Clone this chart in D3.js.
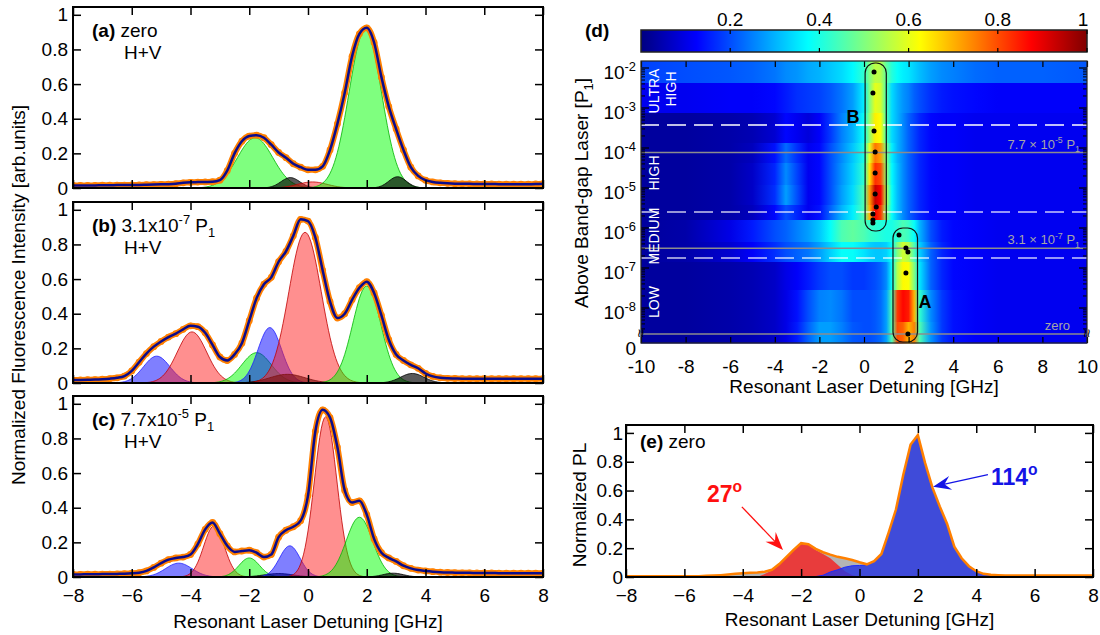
<!DOCTYPE html>
<html>
<head>
<meta charset="utf-8">
<script src="https://cdn.jsdelivr.net/npm/d3@7"></script>
<style>
  body { margin: 0; background: #fff; }
  svg { font-family: "Liberation Sans", Arial, Helvetica, sans-serif; }
</style>
</head>
<body>
<svg id="fig" width="1100" height="635"></svg>
<script>
(function() {
	"use strict"

	// ---------- data ----------
	// detuning grid of the measured spectra [GHz]
	var detuning = d3.range(-8, 8.0001, 0.25);

	// normalized fluorescence, panels (a) (b) (c)
	var specA = [0.015,0.015,0.015,0.015,0.016,0.016,0.017,0.017,0.018,0.018,0.019,0.020,
		0.021,0.022,0.025,0.030,0.033,0.034,0.035,0.036,
		0.045,0.10,0.20,0.27,0.30,0.305,0.29,0.25,
		0.205,0.175,0.14,0.12,0.105,0.105,0.125,0.22,
		0.37,0.55,0.76,0.89,0.925,0.84,0.64,0.47,
		0.34,0.22,0.12,0.07,0.045,0.035,0.030,0.027,
		0.025,0.024,0.024,0.023,0.023,0.023,0.022,0.022,0.022,0.022,0.022,0.023,0.025];
	var specB = [0.017,0.018,0.019,0.020,0.022,0.025,0.030,0.040,
		0.070,0.12,0.17,0.21,
		0.24,0.265,0.285,0.31,
		0.33,0.325,0.29,0.22,
		0.15,0.13,0.165,0.23,
		0.36,0.49,0.57,0.61,
		0.70,0.76,0.85,0.945,
		0.935,0.84,0.65,0.47,
		0.375,0.40,0.48,0.55,
		0.585,0.52,0.39,0.25,
		0.165,0.13,0.105,0.085,
		0.055,0.038,0.030,0.027,
		0.026,0.025,0.025,0.025,0.025,0.025,0.025,0.025,0.025,0.025,0.025,0.025,0.025];
	var specC = [0.015,0.015,0.016,0.016,0.017,0.017,0.018,0.019,
		0.021,0.025,0.035,0.055,
		0.08,0.10,0.11,0.115,
		0.13,0.19,0.275,0.315,
		0.25,0.18,0.145,0.15,
		0.155,0.14,0.115,0.13,
		0.23,0.27,0.29,0.325,
		0.47,0.84,0.965,0.92,
		0.75,0.50,0.43,0.44,
		0.36,0.22,0.14,0.11,
		0.09,0.065,0.05,0.04,
		0.035,0.031,0.028,0.026,
		0.025,0.024,0.024,0.023,0.023,0.023,0.022,0.022,0.022,0.022,0.022,0.022,0.022];

	// fitted components: [kind, centre GHz, height, width GHz]
	var compA = [["g",-1.8,0.29,0.6],["k",-0.6,0.06,0.32],["r",0.15,0.035,0.5],["g",1.95,0.915,0.55],["k",3.05,0.065,0.3]];
	var compB = [["b",-5.15,0.155,0.45],["r",-3.95,0.295,0.5],["g",-1.75,0.175,0.5],["b",-1.3,0.32,0.4],
		["k",-0.7,0.05,0.6],["r",-0.1,0.87,0.55],["g",2.0,0.56,0.48],["k",3.55,0.055,0.4]];
	var compC = [["b",-4.4,0.08,0.45],["r",-3.2,0.295,0.35],["g",-2.0,0.11,0.35],["k",-1.0,0.02,0.5],
		["b",-0.62,0.18,0.35],["r",0.6,0.925,0.38],["g",1.75,0.345,0.45],["k",2.9,0.022,0.35]];

	var labelA = [["(a)","b"],[" zero",""]];
	var labelB = [["(b)","b"],[" 3.1x10",""],["-7","sup"],[" P",""],["1","sub"]];
	var labelC = [["(c)","b"],[" 7.7x10",""],["-5","sup"],[" P",""],["1","sub"]];

	// panel (e): total, 27 deg and 114 deg spectra
	var specETotal = [0.005,0.005,0.005,0.005,0.005,0.005,0.005,0.005,0.005,0.005,0.005,0.008,
		0.010,0.013,0.017,0.022,
		0.026,0.030,0.032,0.036,
		0.050,0.09,0.14,0.19,
		0.235,0.228,0.195,0.172,
		0.155,0.14,0.13,0.118,
		0.102,0.088,0.11,0.16,
		0.31,0.47,0.71,0.92,
		0.985,0.79,0.62,0.49,
		0.37,0.21,0.13,0.075,
		0.04,0.022,0.015,0.012,
		0.010,0.010,0.010,0.010,0.010,0.010,0.010,0.010,0.010,0.010,0.010,0.010,0.010];
	var specERed = [0,0,0,0,0,0,0,0,0,0,0,0,0,0,0,0,0,0,0,0.02,
		0.045,0.085,0.135,0.185,
		0.23,0.222,0.188,0.16,
		0.13,0.085,0.04,0.012,
		0,0,0,0,0,0,0,0,0,0,0,0,0,0,0,0,0,0,0,0,0,0,0,0,0,0,0,0,0,0,0,0,0];
	var specEBlue = [0,0,0,0,0,0,0,0,0,0,0,0,0,0,0,0,0,0,0,0,0,0,0,0,0,0,0.003,0.012,
		0.035,0.05,0.068,0.078,
		0.08,0.083,0.105,0.15,
		0.305,0.465,0.705,0.915,
		0.98,0.785,0.615,0.485,
		0.365,0.205,0.125,0.07,
		0.035,0.018,0.012,0.009,
		0.008,0.008,0.008,0.008,0.008,0.008,0.008,0.008,0.008,0.008,0.008,0.008,0.008];
	var arrowRed = [-4.03, 0.487, -2.62, 0.188];
	var arrowBlue = [4.4, 0.71, 2.52, 0.626];

	// panel (d): heat map columns [GHz], row edges [log10 P/P1] and normalized values
	var hmX = [-10,-8,-6,-5,-4,-3.5,-3,-2.5,-2,-1.5,-1,-0.5,0,0.25,0.5,0.75,1,1.25,1.5,1.75,2,2.25,2.5,3,3.5,4,5,6,8,10];
	var hmRowEdges = [-1.825,-2.375,-3.125,-3.875,-4.375,-4.925,-5.425,-5.8,-6.35,-6.85,-7.55,-8.35,-8.875];
	var heatValues = [
		[0.19,0.2,0.21,0.22,0.24,0.26,0.27,0.29,0.3,0.32,0.34,0.37,0.42,0.5,0.56,0.55,0.47,0.41,0.38,0.36,0.35,0.33,0.31,0.28,0.26,0.25,0.23,0.22,0.22,0.21],
		[0.11,0.11,0.12,0.12,0.13,0.15,0.17,0.18,0.19,0.21,0.24,0.28,0.36,0.5,0.6,0.58,0.45,0.34,0.3,0.27,0.25,0.22,0.2,0.17,0.15,0.14,0.13,0.12,0.12,0.12],
		[0.03,0.03,0.04,0.05,0.08,0.13,0.11,0.09,0.12,0.18,0.25,0.3,0.38,0.52,0.64,0.62,0.45,0.34,0.3,0.26,0.22,0.19,0.16,0.13,0.12,0.12,0.11,0.11,0.11,0.11],
		[0.03,0.03,0.04,0.06,0.14,0.23,0.17,0.11,0.13,0.2,0.26,0.32,0.4,0.6,0.76,0.72,0.5,0.36,0.3,0.26,0.22,0.19,0.16,0.13,0.12,0.12,0.11,0.11,0.11,0.11],
		[0.03,0.03,0.04,0.07,0.16,0.26,0.19,0.11,0.13,0.2,0.27,0.33,0.42,0.65,0.83,0.8,0.52,0.37,0.31,0.26,0.22,0.19,0.16,0.13,0.12,0.12,0.11,0.11,0.11,0.11],
		[0.03,0.03,0.04,0.07,0.17,0.28,0.2,0.11,0.13,0.2,0.28,0.34,0.45,0.72,0.93,0.88,0.55,0.38,0.31,0.26,0.22,0.19,0.16,0.13,0.12,0.12,0.11,0.11,0.11,0.11],
		[0.03,0.03,0.04,0.06,0.13,0.2,0.16,0.11,0.14,0.22,0.3,0.36,0.45,0.7,0.88,0.82,0.52,0.38,0.31,0.26,0.22,0.19,0.16,0.13,0.12,0.12,0.11,0.11,0.11,0.11],
		[0.03,0.04,0.1,0.15,0.2,0.22,0.25,0.28,0.32,0.38,0.45,0.47,0.45,0.43,0.42,0.41,0.4,0.4,0.42,0.45,0.43,0.38,0.3,0.2,0.15,0.13,0.12,0.11,0.11,0.11],
		[0.03,0.04,0.08,0.12,0.17,0.2,0.22,0.24,0.28,0.33,0.38,0.38,0.35,0.33,0.32,0.32,0.33,0.38,0.5,0.58,0.55,0.45,0.33,0.22,0.16,0.13,0.12,0.11,0.11,0.11],
		[0.03,0.03,0.04,0.05,0.07,0.1,0.12,0.15,0.18,0.2,0.2,0.18,0.18,0.19,0.2,0.22,0.26,0.38,0.55,0.63,0.62,0.5,0.35,0.22,0.16,0.13,0.12,0.11,0.11,0.11],
		[0.03,0.03,0.04,0.05,0.07,0.1,0.14,0.2,0.25,0.26,0.24,0.2,0.2,0.2,0.21,0.23,0.28,0.45,0.82,0.87,0.85,0.7,0.42,0.26,0.18,0.14,0.12,0.11,0.11,0.11],
		[0.03,0.03,0.04,0.05,0.07,0.1,0.15,0.22,0.28,0.28,0.25,0.21,0.2,0.2,0.21,0.23,0.28,0.45,0.8,0.78,0.7,0.75,0.45,0.27,0.18,0.14,0.12,0.11,0.11,0.11]
	];
	// fitted peak positions [GHz, log10 P]
	var peaksB = [[0.45,-2.1],[0.4,-2.625],[0.45,-3.575],[0.5,-4.1],[0.5,-4.625],[0.5,-5.15],[0.55,-5.475],[0.4,-5.65],[0.4,-5.8],[0.4,-5.875]];
	var peaksA = [[1.57,-6.175],[1.88,-6.5],[1.97,-6.6],[1.88,-7.125],[1.97,-8.65]];
	var boxB = [0.05, 1.0, -1.875, -6.075];
	var boxA = [1.3, 2.4, -6.0, -8.85];
	var refLevels = [Math.log10(7.7e-5), Math.log10(3.1e-7), -8.65];
	var regionBounds = [-3.425, -5.6, -6.75];
	var cbTicks = [0.2, 0.4, 0.6, 0.8, 1];
	var yTicks = [0, 0.2, 0.4, 0.6, 0.8, 1];
	var xTicksSpec = [-8, -6, -4, -2, 0, 2, 4, 6, 8];
	var xTicksMap = [-10, -8, -6, -4, -2, 0, 2, 4, 6, 8, 10];

	// ---------- helpers ----------
	var svg = d3.select("#fig"),
		defs = svg.append("defs"),
		jet = d3.scaleLinear().domain([0, 0.125, 0.375, 0.625, 0.875, 1])
			.range(["#000080", "#0000ff", "#00ffff", "#ffff00", "#ff0000", "#800000"]),
		compStyle = {
			g: { fill: "#00ff00", op: 0.5, stroke: "#00b400" },
			r: { fill: "#ff2020", op: 0.5, stroke: "#c00000" },
			b: { fill: "#0000ff", op: 0.5, stroke: "#2020ff" },
			k: { fill: "#000000", op: 0.65, stroke: "#000000" }
		},
		fine = d3.range(-8, 8.0001, 0.05);

	function gauss(c, x) {
		return c[2] * Math.exp(-(x - c[1]) * (x - c[1]) / (2 * c[3] * c[3]));
	}

	function rich(g, x, y, parts, size, anchor) {
		var t = g.append("text").attr("x", x).attr("y", y)
			.attr("font-size", size).attr("text-anchor", anchor || "start");
		var shift = 0;
		parts.forEach(function(p) {
			var target = p[1] === "sup" ? -0.42 * size : (p[1] === "sub" ? 0.28 * size : 0);
			var s = t.append("tspan").text(p[0]).attr("dy", target - shift);
			if (p[1] === "sup" || p[1] === "sub") s.attr("font-size", size * 0.68);
			if (p[1] === "b") s.attr("font-weight", "bold");
			shift = target;
		});
		return t;
	}

	function styleAxis(g, size) {
		g.attr("font-family", null).attr("font-size", size);
		g.select(".domain").remove();
		g.selectAll(".tick line").attr("stroke", "#000").attr("stroke-width", 1.5);
		g.selectAll(".tick text").attr("fill", "#000");
	}

	function frameAxes(g, x, y, xTicks, showX, tick, pad, ypad) {
		var r = x.range(), b = y.range();
		g.append("g").attr("transform", "translate(0," + b[0] + ")")
			.call(d3.axisBottom(x).tickValues(xTicks).tickSizeInner(-tick).tickSizeOuter(0).tickPadding(pad)
				.tickFormat(showX ? d3.format("") : ""))
			.call(function(a) { styleAxis(a, 19); });
		g.append("g").attr("transform", "translate(0," + b[1] + ")")
			.call(d3.axisTop(x).tickValues(xTicks).tickSizeInner(-tick).tickSizeOuter(0).tickFormat(""))
			.call(function(a) { styleAxis(a, 19); });
		g.append("g").attr("transform", "translate(" + r[0] + ",0)")
			.call(d3.axisLeft(y).tickValues(yTicks).tickSizeInner(-tick).tickSizeOuter(0).tickPadding(ypad)
				.tickFormat(d3.format("~g")))
			.call(function(a) { styleAxis(a, 19); });
		g.append("g").attr("transform", "translate(" + r[1] + ",0)")
			.call(d3.axisRight(y).tickValues(yTicks).tickSizeInner(-tick).tickSizeOuter(0).tickFormat(""))
			.call(function(a) { styleAxis(a, 19); });
		g.append("rect").attr("x", r[0]).attr("y", b[1]).attr("width", r[1] - r[0]).attr("height", b[0] - b[1])
			.attr("fill", "none").attr("stroke", "#000").attr("stroke-width", 2);
	}

	// ---------- panels (a)-(c) ----------
	var xSpec = d3.scaleLinear().domain([-8, 8]).range([73, 543]);
	var leftPanels = [
		{ top: 7, spec: specA, comps: compA, label: labelA },
		{ top: 202, spec: specB, comps: compB, label: labelB },
		{ top: 396, spec: specC, comps: compC, label: labelC }
	];

	leftPanels.forEach(function(p, pi) {
		var y = d3.scaleLinear().domain([0, 1.045]).range([p.top + 181, p.top]),
			g = svg.append("g"),
			clipId = "clipL" + pi;
		defs.append("clipPath").attr("id", clipId).append("rect")
			.attr("x", 73).attr("y", p.top).attr("width", 470).attr("height", 181);
		var plot = g.append("g").attr("clip-path", "url(#" + clipId + ")");

		p.comps.forEach(function(c) {
			var st = compStyle[c[0]];
			plot.append("path").datum(fine)
				.attr("d", d3.area().x(function(d) { return xSpec(d); }).y0(y(0))
					.y1(function(d) { return y(gauss(c, d)); }))
				.attr("fill", st.fill).attr("fill-opacity", st.op)
				.attr("stroke", st.stroke).attr("stroke-width", 0.8);
		});

		var line = d3.line()
			.x(function(d, i) { return xSpec(detuning[i]); })
			.y(function(d) { return y(d); })
			.curve(d3.curveMonotoneX);
		plot.append("path").datum(p.spec).attr("d", line)
			.attr("fill", "none").attr("stroke", "#ff8000").attr("stroke-width", 6);
		plot.selectAll("circle.pt").data(p.spec).enter().append("circle")
			.attr("class", "pt")
			.attr("cx", function(d, i) { return xSpec(detuning[i]); })
			.attr("cy", function(d) { return y(d); })
			.attr("r", 3.4).attr("fill", "#ff8000");
		plot.append("path").datum(p.spec).attr("d", line)
			.attr("fill", "none").attr("stroke", "#0c0c8c").attr("stroke-width", 2.5);

		frameAxes(g, xSpec, y, xTicksSpec, pi === 2, 8, 11.5, 5);
		rich(g, 92, p.top + 30, p.label, 19);
		g.append("text").attr("x", 124).attr("y", p.top + 52).attr("font-size", 19).text("H+V");
	});

	rich(svg, 308, 628, [["Resonant Laser Detuning [GHz]", ""]], 19, "middle");
	svg.append("text").attr("transform", "translate(25,295) rotate(-90)")
		.attr("text-anchor", "middle").attr("font-size", 19)
		.text("Normalized Fluorescence Intensity [arb.units]");

	// ---------- panel (d) ----------
	var xHm = d3.scaleLinear().domain([-10, 10]).range([641, 1087]),
		yHm = d3.scaleLinear().domain([-2, -8]).range([68, 308]),
		hmTop = yHm(hmRowEdges[0]),
		hmBottom = yHm(hmRowEdges[hmRowEdges.length - 1]),
		gd = svg.append("g");

	heatValues.forEach(function(row, ri) {
		var grad = defs.append("linearGradient").attr("id", "hmRow" + ri)
			.attr("gradientUnits", "userSpaceOnUse")
			.attr("x1", xHm(-10)).attr("x2", xHm(10)).attr("y1", 0).attr("y2", 0);
		row.forEach(function(v, j) {
			grad.append("stop").attr("offset", (xHm(hmX[j]) - xHm(-10)) / (xHm(10) - xHm(-10)))
				.attr("stop-color", jet(v));
		});
		gd.append("rect").attr("x", xHm(-10)).attr("width", xHm(10) - xHm(-10))
			.attr("y", yHm(hmRowEdges[ri])).attr("height", yHm(hmRowEdges[ri + 1]) - yHm(hmRowEdges[ri]) + 0.5)
			.attr("fill", "url(#hmRow" + ri + ")");
	});

	refLevels.forEach(function(v) {
		gd.append("line").attr("x1", xHm(-10)).attr("x2", xHm(10)).attr("y1", yHm(v)).attr("y2", yHm(v))
			.attr("stroke", "#8c8c8c").attr("stroke-width", 1.5);
	});
	regionBounds.forEach(function(v, i) {
		gd.append("line").attr("x1", xHm(-10)).attr("x2", xHm(10)).attr("y1", yHm(v)).attr("y2", yHm(v))
			.attr("stroke", "#fff").attr("stroke-opacity", i === 0 ? 1 : 0.78)
			.attr("stroke-width", 1.6).attr("stroke-dasharray", "19,8").attr("stroke-dashoffset", 1);
	});

	[boxB, boxA].forEach(function(b) {
		gd.append("rect").attr("x", xHm(b[0])).attr("y", yHm(b[2]))
			.attr("width", xHm(b[1]) - xHm(b[0])).attr("height", yHm(b[3]) - yHm(b[2]))
			.attr("rx", 10).attr("ry", 10)
			.attr("fill", "none").attr("stroke", "#111").attr("stroke-width", 1.2);
	});
	gd.selectAll("circle.pk").data(peaksB.concat(peaksA)).enter().append("circle")
		.attr("class", "pk")
		.attr("cx", function(d) { return xHm(d[0]); })
		.attr("cy", function(d) { return yHm(d[1]); })
		.attr("r", 2.5).attr("fill", "#000");

	gd.append("text").attr("x", 853).attr("y", 123).attr("font-size", 18).attr("font-weight", "bold")
		.attr("text-anchor", "middle").text("B");
	gd.append("text").attr("x", 925).attr("y", 308).attr("font-size", 18).attr("font-weight", "bold")
		.attr("text-anchor", "middle").text("A");

	// region names
	[["ULTRA", 659, 91], ["HIGH", 676, 89], ["HIGH", 659, 173], ["MEDIUM", 659, 236], ["LOW", 659, 302]].forEach(function(t) {
		gd.append("text").attr("transform", "translate(" + t[1] + "," + t[2] + ") rotate(-90)")
			.attr("text-anchor", "middle").attr("font-size", 14).attr("fill", "#fff").text(t[0]);
	});

	// reference level labels
	rich(gd, 1080, yHm(refLevels[0]) - 4, [["7.7 \u00d7 10", ""], ["-5", "sup"], [" P", ""], ["1", "sub"]], 13, "end")
		.attr("fill", "#a6a6a6");
	rich(gd, 1080, yHm(refLevels[1]) - 4, [["3.1 \u00d7 10", ""], ["-7", "sup"], [" P", ""], ["1", "sub"]], 13, "end")
		.attr("fill", "#a6a6a6");
	gd.append("text").attr("x", 1070).attr("y", yHm(refLevels[2]) - 4).attr("text-anchor", "end")
		.attr("font-size", 13).attr("fill", "#a6a6a6").text("zero");

	// x axes of (d)
	gd.append("g").attr("transform", "translate(0," + hmBottom + ")")
		.call(d3.axisBottom(xHm).tickValues(xTicksMap).tickSizeInner(-6).tickSizeOuter(0).tickPadding(17)
			.tickFormat(function(d) { return String(d); }))
		.call(function(a) { styleAxis(a, 19); a.selectAll(".tick line").attr("stroke-width", 1.2); });
	gd.append("g").attr("transform", "translate(0," + hmTop + ")")
		.call(d3.axisTop(xHm).tickValues(xTicksMap).tickSizeInner(-6).tickSizeOuter(0).tickFormat(""))
		.call(function(a) { styleAxis(a, 19); a.selectAll(".tick line").attr("stroke-width", 1.2); });

	// log y axis of (d)
	var majors = d3.range(-8, -1.9, 1), minors = [];
	d3.range(-9, -2, 1).forEach(function(n) {
		d3.range(2, 10).forEach(function(k) {
			var v = n + Math.log10(k);
			if (v > -8.55 && v < -1.83) minors.push(v);
		});
	});
	[[xHm(-10), 1], [xHm(10), -1]].forEach(function(s) {
		majors.forEach(function(v) {
			gd.append("line").attr("x1", s[0]).attr("x2", s[0] + s[1] * 8).attr("y1", yHm(v)).attr("y2", yHm(v))
				.attr("stroke", "#000").attr("stroke-width", 1.2);
		});
		minors.forEach(function(v) {
			gd.append("line").attr("x1", s[0]).attr("x2", s[0] + s[1] * 4).attr("y1", yHm(v)).attr("y2", yHm(v))
				.attr("stroke", "#000").attr("stroke-width", 1);
		});
	});
	majors.forEach(function(v) {
		rich(gd, 636, yHm(v) + 11, [["10", ""], [String(v), "sup"]], 19, "end");
	});
	gd.append("text").attr("x", 636).attr("y", 355).attr("text-anchor", "end").attr("font-size", 19).text("0");
	[xHm(-10), xHm(10)].forEach(function(x) {
		gd.append("text").attr("transform", "translate(" + x + ",333) rotate(90)")
			.attr("text-anchor", "middle").attr("dy", "0.35em").attr("font-size", 15).text("\u2248");
	});

	gd.append("rect").attr("x", xHm(-10)).attr("y", hmTop).attr("width", xHm(10) - xHm(-10))
		.attr("height", hmBottom - hmTop).attr("fill", "none").attr("stroke", "#222").attr("stroke-width", 1.2);

	rich(gd, xHm(0), 393, [["Resonant Laser Detuning [GHz]", ""]], 19, "middle");
	rich(gd, 0, 0, [["Above Band-gap Laser [P", ""], ["1", "sub"], ["]", ""]], 19, "middle")
		.attr("transform", "translate(588,193) rotate(-90)").attr("x", null).attr("y", null);
	gd.append("text").attr("x", 585).attr("y", 37).attr("font-size", 19).attr("font-weight", "bold").text("(d)");

	// colour bar
	var cb = d3.scaleLinear().domain([0, 1]).range([641, 1087]),
		cbGrad = defs.append("linearGradient").attr("id", "cbGrad");
	d3.range(0, 1.0001, 0.025).forEach(function(v) {
		cbGrad.append("stop").attr("offset", v).attr("stop-color", jet(v));
	});
	gd.append("rect").attr("x", cb(0)).attr("y", 30).attr("width", cb(1) - cb(0)).attr("height", 22)
		.attr("fill", "url(#cbGrad)").attr("stroke", "#222").attr("stroke-width", 1.5);
	cbTicks.forEach(function(v) {
		gd.append("line").attr("x1", cb(v)).attr("x2", cb(v)).attr("y1", 30).attr("y2", 34)
			.attr("stroke", "#000").attr("stroke-width", 1.2);
		gd.append("line").attr("x1", cb(v)).attr("x2", cb(v)).attr("y1", 52).attr("y2", 48)
			.attr("stroke", "#000").attr("stroke-width", 1.2);
		gd.append("text").attr("x", cb(v) - (v === 1 ? 4 : 0)).attr("y", 26).attr("text-anchor", "middle")
			.attr("font-size", 19).text(d3.format("~g")(v));
	});

	// ---------- panel (e) ----------
	var xE = d3.scaleLinear().domain([-8, 8]).range([626, 1093]),
		yE = d3.scaleLinear().domain([0, 1.055]).range([577, 425]),
		ge = svg.append("g");
	defs.append("clipPath").attr("id", "clipE").append("rect")
		.attr("x", 626).attr("y", 425).attr("width", 467).attr("height", 152);
	var pe = ge.append("g").attr("clip-path", "url(#clipE)");
	function areaE(arr) {
		return d3.area().x(function(d, i) { return xE(detuning[i]); }).y0(yE(0))
			.y1(function(d) { return yE(d); })(arr);
	}
	pe.append("path").attr("d", areaE(specETotal)).attr("fill", "#b4b4b4");
	pe.append("path").attr("d", areaE(specERed)).attr("fill", "#e83c3c");
	pe.append("path").attr("d", areaE(specEBlue)).attr("fill", "#2433e0").attr("fill-opacity", 0.82)
		.attr("stroke", "#1a2aff").attr("stroke-width", 1);
	pe.append("path").datum(specETotal)
		.attr("d", d3.line().x(function(d, i) { return xE(detuning[i]); }).y(function(d) { return yE(d); }))
		.attr("fill", "none").attr("stroke", "#ff8000").attr("stroke-width", 2.5);

	frameAxes(ge, xE, yE, xTicksSpec, true, 8, 11.5, 3);
	rich(ge, 640, 448, [["(e)", "b"], [" zero", ""]], 19);
	rich(ge, xE(0), 626, [["Resonant Laser Detuning [GHz]", ""]], 19, "middle");
	ge.append("text").attr("transform", "translate(586,505) rotate(-90)")
		.attr("text-anchor", "middle").attr("font-size", 19).text("Normalized PL");

	function arrow(g, a, color) {
		var x1 = xE(a[0]), y1 = yE(a[1]), x2 = xE(a[2]), y2 = yE(a[3]),
			dx = x2 - x1, dy = y2 - y1, len = Math.sqrt(dx * dx + dy * dy),
			ux = dx / len, uy = dy / len, nx = -uy, ny = ux, L = 18, W = 7;
		g.append("line").attr("x1", x1).attr("y1", y1).attr("x2", x2 - ux * L * 0.6).attr("y2", y2 - uy * L * 0.6)
			.attr("stroke", color).attr("stroke-width", 1.3);
		var pts = [[x2, y2], [x2 - ux * L + nx * W, y2 - uy * L + ny * W],
			[x2 - ux * L * 0.65, y2 - uy * L * 0.65], [x2 - ux * L - nx * W, y2 - uy * L - ny * W]];
		g.append("path").attr("d", "M" + pts.join("L") + "Z").attr("fill", color);
	}
	arrow(ge, arrowRed, "#ff1010");
	arrow(ge, arrowBlue, "#1414e6");
	rich(ge, 707, 502, [["27", ""], ["o", "sup"]], 23).attr("font-weight", "bold").attr("fill", "#ff1010");
	rich(ge, 991, 485, [["114", ""], ["o", "sup"]], 23).attr("font-weight", "bold").attr("fill", "#1414e6");
})();
</script>
</body>
</html>
